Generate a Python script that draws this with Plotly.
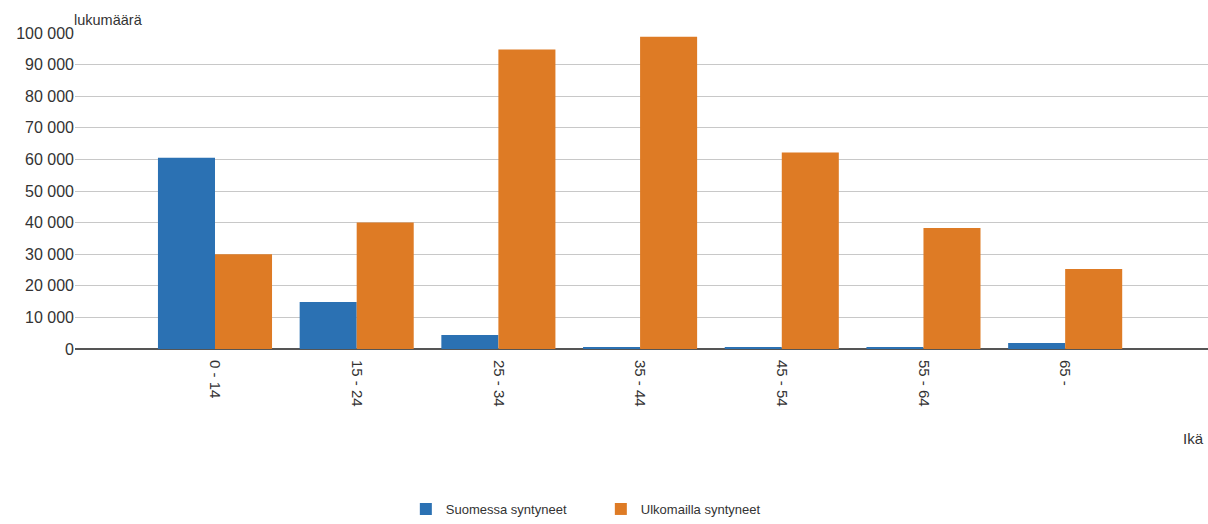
import plotly.graph_objects as go

categories = ["0 - 14", "15 - 24", "25 - 34", "35 - 44", "45 - 54", "55 - 64", "65 -"]
suomessa = [60500, 14900, 4400, 500, 500, 500, 1900]
ulkomailla = [30000, 40000, 94800, 98800, 62200, 38300, 25300]
series_names = ["Suomessa syntyneet", "Ulkomailla syntyneet"]
ytick_vals = [0, 10000, 20000, 30000, 40000, 50000, 60000, 70000, 80000, 90000, 100000]
ytick_text = ["0", "10 000", "20 000", "30 000", "40 000", "50 000", "60 000", "70 000", "80 000", "90 000", "100 000"]

blue = "#2b71b3"
orange = "#de7b25"

fig = go.Figure()
fig.add_trace(go.Bar(x=categories, y=suomessa, name=series_names[0], marker_color=blue, marker_line_width=0))
fig.add_trace(go.Bar(x=categories, y=ulkomailla, name=series_names[1], marker_color=orange, marker_line_width=0))

fig.update_layout(
    width=1208, height=524,
    margin=dict(l=75, r=0, t=33, b=174),
    paper_bgcolor="white", plot_bgcolor="white",
    barmode="group", bargap=0.195, bargroupgap=0,
    font=dict(family="Liberation Sans, Arial, sans-serif", size=14, color="#333333"),
    showlegend=True,
    legend=dict(orientation="h", x=0.292, xanchor="left", y=-0.508, yanchor="middle",
                font=dict(size=13, color="#333333"), traceorder="normal",
                entrywidth=150, entrywidthmode="pixels"),
    xaxis=dict(type="category", range=[-0.988, 7.008], tickangle=90, showgrid=False,
               showline=False, ticks="", ticklabelstandoff=10,
               tickfont=dict(size=15, color="#333333")),
    yaxis=dict(range=[0, 100000], tickvals=ytick_vals, ticktext=ytick_text,
               showgrid=True, gridcolor="#c8c8c8", gridwidth=1,
               zeroline=True, zerolinecolor="#555555", zerolinewidth=1.5,
               showline=False, ticks="", tickfont=dict(size=16, color="#333333")),
    annotations=[
        dict(text="lukumäärä", xref="paper", yref="paper", x=-0.003, y=1.0, xanchor="left",
             yanchor="bottom", showarrow=False, font=dict(size=14.5, color="#333333"), yshift=3),
        dict(text="Ikä", xref="paper", yref="paper", x=0.998, y=-0.282, xanchor="right",
             yanchor="middle", showarrow=False, font=dict(size=15, color="#333333")),
    ],
)

fig.write_html("out.html")
